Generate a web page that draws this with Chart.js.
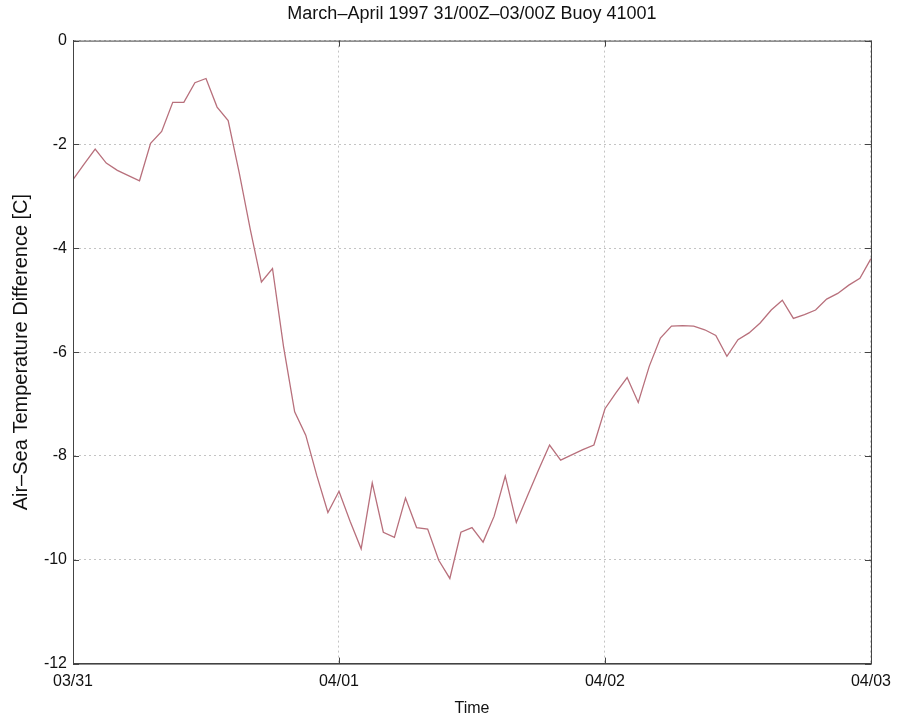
<!DOCTYPE html>
<html>
<head>
<meta charset="utf-8">
<script src="https://cdn.jsdelivr.net/npm/chart.js@4/dist/chart.umd.min.js"></script>
<style>
  html, body { margin: 0; padding: 0; background: #fff; }
  #wrap { width: 899px; height: 721px; }
</style>
</head>
<body>
<div id="wrap"><canvas id="buoyChart" width="899" height="721"></canvas></div>
<script>
// hours since 03/31 00Z
const hours = [
  0, 1, 2, 3, 4, 5, 6, 7, 8, 9, 10, 11, 12, 13, 14, 15, 16, 17, 18, 19, 20, 21, 22, 23,
  24, 25, 26, 27, 28, 29, 30, 31, 32, 33, 34, 35, 36, 37, 38, 39, 40, 41, 42, 43, 44, 45, 46, 47,
  48, 49, 50, 51, 52, 53, 54, 55, 56, 57, 58, 59, 60, 61, 62, 63, 64, 65, 66, 67, 68, 69, 70, 71, 72
];
// air-sea temperature difference [C]
const tempDiff = [
  -2.68, -2.38, -2.09, -2.36, -2.5, -2.6, -2.7, -1.98, -1.75, -1.19, -1.19, -0.81,
  -0.73, -1.28, -1.54, -2.55, -3.64, -4.65, -4.39, -5.9, -7.15, -7.6, -8.38, -9.09,
  -8.68, -9.26, -9.79, -8.52, -9.47, -9.57, -8.81, -9.38, -9.41, -10.01, -10.36, -9.47,
  -9.38, -9.66, -9.16, -8.39, -9.28, -8.77, -8.27, -7.79, -8.08, -7.98, -7.88, -7.79,
  -7.09, -6.78, -6.49, -6.97, -6.27, -5.73, -5.5, -5.49, -5.5, -5.57, -5.68, -6.08,
  -5.76, -5.63, -5.44, -5.19, -5.0, -5.35, -5.28, -5.19, -4.98, -4.87, -4.71, -4.58, -4.2
];
const dayLabels = ['03/31', '04/01', '04/02', '04/03'];
const yTicks = [0, -2, -4, -6, -8, -10, -12];

const FONT = { family: '"Liberation Sans", Arial, Helvetica, sans-serif', size: 16 };

// -----------------------------
// box + inward ticks (matlab look)
// -----------------------------
const boxPlugin = {
  id: 'boxPlugin',
  afterDraw(chart) {
    const { ctx, chartArea: a, scales } = chart;
    ctx.save();
    ctx.strokeStyle = '#444';
    ctx.lineWidth = 1;
    ctx.strokeRect(a.left + 0.5, a.top + 0.5, a.right - a.left, a.bottom - a.top);
    const len = 6;
    ctx.beginPath();
    hours.filter(h => h % 24 === 0).forEach(h => {
      const x = Math.round(scales.x.getPixelForValue(h)) + 0.5;
      ctx.moveTo(x, a.bottom); ctx.lineTo(x, a.bottom - len);
      ctx.moveTo(x, a.top); ctx.lineTo(x, a.top + len);
    });
    yTicks.forEach(v => {
      const y = Math.round(scales.y.getPixelForValue(v)) + 0.5;
      ctx.moveTo(a.left, y); ctx.lineTo(a.left + len, y);
      ctx.moveTo(a.right, y); ctx.lineTo(a.right - len, y);
    });
    ctx.stroke();
    ctx.restore();
  }
};

new Chart(document.getElementById('buoyChart').getContext('2d'), {
  type: 'line',
  data: {
    datasets: [{
      data: hours.map((h, i) => ({ x: h, y: tempDiff[i] })),
      borderColor: '#b8707c',
      borderWidth: 1.3,
      pointRadius: 0,
      tension: 0,
      fill: false
    }]
  },
  options: {
    responsive: false,
    animation: false,
    layout: { padding: { left: 0, right: 28, top: 0, bottom: 0 } },
    plugins: {
      legend: { display: false },
      tooltip: { enabled: false },
      title: {
        display: true,
        text: 'March\u2013April 1997 31/00Z\u201303/00Z Buoy 41001',
        color: '#111',
        font: { ...FONT, size: 18, weight: 'normal' },
        fullSize: false,
        padding: { top: 3, bottom: 16 }
      }
    },
    scales: {
      x: {
        type: 'linear',
        min: 0,
        max: 72,
        ticks: {
          stepSize: 24,
          color: '#111',
          font: FONT,
          padding: 8,
          maxRotation: 0,
          callback: v => dayLabels[v / 24] || ''
        },
        grid: { color: '#c4c4c4', drawTicks: false },
        border: { color: '#444', dash: [2, 3] },
        title: {
          display: true,
          text: 'Time',
          color: '#111',
          font: FONT,
          padding: { top: 0, bottom: 3 }
        }
      },
      y: {
        min: -12,
        max: 0,
        ticks: {
          stepSize: 2,
          color: '#111',
          font: FONT,
          padding: 6
        },
        grid: { color: '#c4c4c4', drawTicks: false },
        border: { color: '#444', dash: [2, 3] },
        title: {
          display: true,
          text: 'Air\u2013Sea Temperature Difference [C]',
          color: '#111',
          font: { ...FONT, size: 20 },
          padding: { top: 9, bottom: 0 }
        },
        afterFit(scale) { scale.width = 73; }
      }
    }
  },
  plugins: [boxPlugin]
});
</script>
</body>
</html>
